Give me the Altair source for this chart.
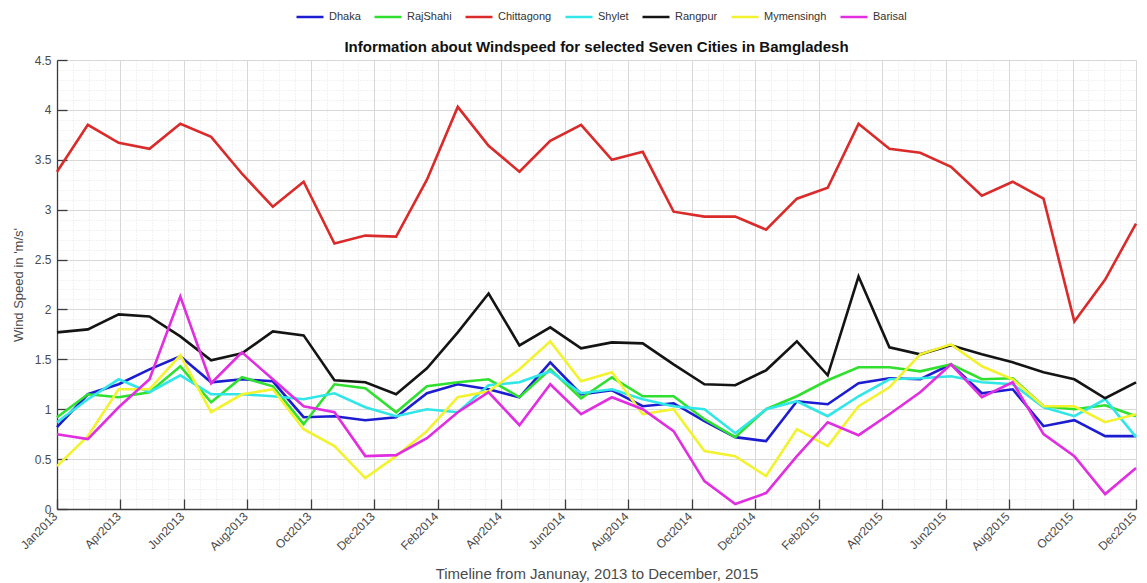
import altair as alt
import pandas as pd

# ---- data ----
cities = ["Dhaka", "RajShahi", "Chittagong", "Shylet", "Rangpur", "Mymensingh", "Barisal"]
colors = ["#1c1cd0", "#2fe02f", "#da2a2a", "#30e6e6", "#141414", "#f2f22e", "#e02ee0"]

month_abbr = ["Jan", "Feb", "Mar", "Apr", "May", "Jun", "Jul", "Aug", "Sep", "Oct", "Nov", "Dec"]
years = [2013, 2014, 2015]
months = [f"{m}{y}" for y in years for m in month_abbr]

tick_labels = ["Jan2013", "Apr2013", "Jun2013", "Aug2013", "Oct2013", "Dec2013",
               "Feb2014", "Apr2014", "Jun2014", "Aug2014", "Oct2014", "Dec2014",
               "Feb2015", "Apr2015", "Jun2015", "Aug2015", "Oct2015", "Dec2015"]
y_ticks = [0, 0.5, 1, 1.5, 2, 2.5, 3, 3.5, 4, 4.5]

dhaka = [0.82, 1.15, 1.25, 1.40, 1.53, 1.27, 1.30, 1.28, 0.92, 0.93, 0.89, 0.92,
         1.16, 1.25, 1.20, 1.12, 1.47, 1.15, 1.19, 1.03, 1.06, 0.88, 0.72, 0.68,
         1.08, 1.05, 1.26, 1.31, 1.30, 1.45, 1.16, 1.20, 0.83, 0.89, 0.73, 0.73]
rajshahi = [0.92, 1.15, 1.12, 1.17, 1.43, 1.07, 1.32, 1.23, 0.85, 1.25, 1.21, 0.97,
            1.23, 1.27, 1.30, 1.12, 1.40, 1.11, 1.32, 1.13, 1.13, 0.90, 0.72, 1.00,
            1.13, 1.29, 1.42, 1.42, 1.38, 1.45, 1.30, 1.31, 1.03, 1.00, 1.04, 0.93]
chittagong = [3.38, 3.85, 3.67, 3.61, 3.86, 3.73, 3.36, 3.03, 3.28, 2.66, 2.74, 2.73,
              3.30, 4.03, 3.64, 3.38, 3.69, 3.85, 3.50, 3.58, 2.98, 2.93, 2.93, 2.80,
              3.11, 3.22, 3.86, 3.61, 3.57, 3.43, 3.14, 3.28, 3.11, 1.88, 2.30, 2.86]
shylet = [0.87, 1.10, 1.30, 1.17, 1.34, 1.15, 1.15, 1.13, 1.10, 1.16, 1.02, 0.93,
          1.00, 0.97, 1.24, 1.27, 1.38, 1.16, 1.20, 1.10, 1.03, 1.00, 0.76, 1.00,
          1.08, 0.93, 1.13, 1.30, 1.31, 1.33, 1.27, 1.25, 1.02, 0.93, 1.10, 0.72]
rangpur = [1.77, 1.80, 1.95, 1.93, 1.73, 1.49, 1.56, 1.78, 1.74, 1.29, 1.27, 1.15,
           1.41, 1.77, 2.16, 1.64, 1.82, 1.61, 1.67, 1.66, 1.45, 1.25, 1.24, 1.39,
           1.68, 1.34, 2.33, 1.62, 1.55, 1.64, 1.55, 1.47, 1.37, 1.30, 1.11, 1.27]
mymensingh = [0.43, 0.73, 1.20, 1.20, 1.54, 0.97, 1.15, 1.20, 0.80, 0.63, 0.31, 0.53,
              0.78, 1.12, 1.18, 1.40, 1.68, 1.28, 1.37, 0.95, 1.00, 0.58, 0.53, 0.33,
              0.80, 0.63, 1.03, 1.22, 1.55, 1.65, 1.43, 1.30, 1.03, 1.03, 0.87, 0.95]
barisal = [0.75, 0.70, 1.02, 1.30, 2.13, 1.26, 1.57, 1.30, 1.03, 0.97, 0.53, 0.54,
           0.71, 0.97, 1.17, 0.84, 1.25, 0.95, 1.12, 1.00, 0.78, 0.28, 0.05, 0.16,
           0.53, 0.87, 0.74, 0.95, 1.17, 1.45, 1.12, 1.27, 0.75, 0.53, 0.15, 0.41]

series = [dhaka, rajshahi, chittagong, shylet, rangpur, mymensingh, barisal]

rows = []
for city, vals in zip(cities, series):
    for i, (m, v) in enumerate(zip(months, vals)):
        rows.append({"city": city, "month": m, "idx": i, "speed": v})
df = pd.DataFrame(rows)

n_last = len(months) - 1
n_int = len(tick_labels) - 1
x_major = [k * n_last / n_int for k in range(len(tick_labels))]
x_minor = [k * n_last / (n_int * 4) for k in range(n_int * 4 + 1) if k % 4 != 0]
y_minor = [k / 10 for k in range(46) if k % 5 != 0]

label_array = "[" + ",".join(f"'{t}'" for t in tick_labels) + "]"
label_expr = f"{label_array}[round(datum.value * {n_int} / {n_last})]"

FONT = "Liberation Sans"
W, H = 1079, 449
xscale = alt.Scale(domain=[0, n_last], nice=False, zero=False)
yscale = alt.Scale(domain=[0, 4.5], nice=False)

# minor dotted grid
minor = alt.Chart(df).mark_line(opacity=0).encode(
    x=alt.X("idx:Q", scale=xscale,
            axis=alt.Axis(values=x_minor, grid=True, gridColor="#e4e4e4", gridDash=[1, 2],
                          labels=False, ticks=False, domain=False, title=None, orient="bottom")),
    y=alt.Y("speed:Q", scale=yscale,
            axis=alt.Axis(values=y_minor, grid=True, gridColor="#e4e4e4", gridDash=[1, 2],
                          labels=False, ticks=False, domain=False, title=None, orient="left")),
    detail="city:N",
)

# inward-pointing tick marks (axes moved onto the opposite edge)
inward = alt.Chart(df).mark_line(opacity=0).encode(
    x=alt.X("idx:Q", scale=xscale,
            axis=alt.Axis(values=x_major, orient="top", offset=-H, labels=False, domain=False,
                          grid=False, ticks=True, tickSize=10, tickColor="#3a3a3a",
                          tickWidth=1.3, title=None)),
    y=alt.Y("speed:Q", scale=yscale,
            axis=alt.Axis(values=y_ticks, orient="right", offset=-W, labels=False, domain=False,
                          grid=False, ticks=True, tickSize=10, tickColor="#3a3a3a",
                          tickWidth=1.3, title=None)),
    detail="city:N",
)

lines = alt.Chart(df).mark_line(strokeWidth=2.6).encode(
    x=alt.X("idx:Q", scale=xscale,
            axis=alt.Axis(values=x_major, labelExpr=label_expr, labelAngle=-45,
                          labelAlign="right", labelBaseline="middle", labelPadding=5,
                          labelOffset=-2,
                          labelFontSize=12, labelColor="#4a4a4a", labelFont=FONT,
                          grid=True, gridColor="#d8d8d8", ticks=False,
                          domainColor="#3a3a3a", domainWidth=1.3,
                          title="Timeline from Janunay, 2013 to December, 2015",
                          titleFont=FONT, titleFontSize=15, titleFontWeight="normal",
                          titleColor="#4a4a4a", titlePadding=14, orient="bottom",
                          labelOverlap=False)),
    y=alt.Y("speed:Q", scale=yscale,
            axis=alt.Axis(values=y_ticks, format=".1~f", labelFontSize=12,
                          labelColor="#4a4a4a", labelFont=FONT, labelPadding=6,
                          grid=True, gridColor="#d8d8d8", ticks=False,
                          domainColor="#3a3a3a", domainWidth=1.3,
                          title="Wind Speed in 'm/s'", titleFont=FONT, titleFontSize=13,
                          titleFontWeight="normal", titleColor="#4a4a4a", titlePadding=9,
                          orient="left")),
    color=alt.Color("city:N", scale=alt.Scale(domain=cities, range=colors),
                    legend=alt.Legend(orient="none", legendX=238, legendY=-58,
                                      direction="horizontal", title=None,
                                      symbolType="stroke", symbolStrokeWidth=2.5,
                                      symbolSize=729, labelFontSize=11, labelFont=FONT,
                                      labelColor="#333333", labelOffset=4,
                                      columnPadding=8)),
    detail="city:N",
)

chart = alt.layer(minor, inward, lines).resolve_axis(x="independent", y="independent").properties(
    width=W,
    height=H,
    autosize=alt.AutoSizeParams(type="none"),
    padding={"left": 49, "top": 52, "right": 3, "bottom": 75},
    title=alt.TitleParams(
        text="Information about Windspeed for selected Seven Cities in Bamgladesh",
        font=FONT, fontSize=15, fontWeight="bold", color="#111111",
        anchor="middle", offset=4, dy=57),
).configure_view(stroke=None).configure(background="white")

chart.save("out.html", embed_options={"renderer": "svg", "actions": False})
